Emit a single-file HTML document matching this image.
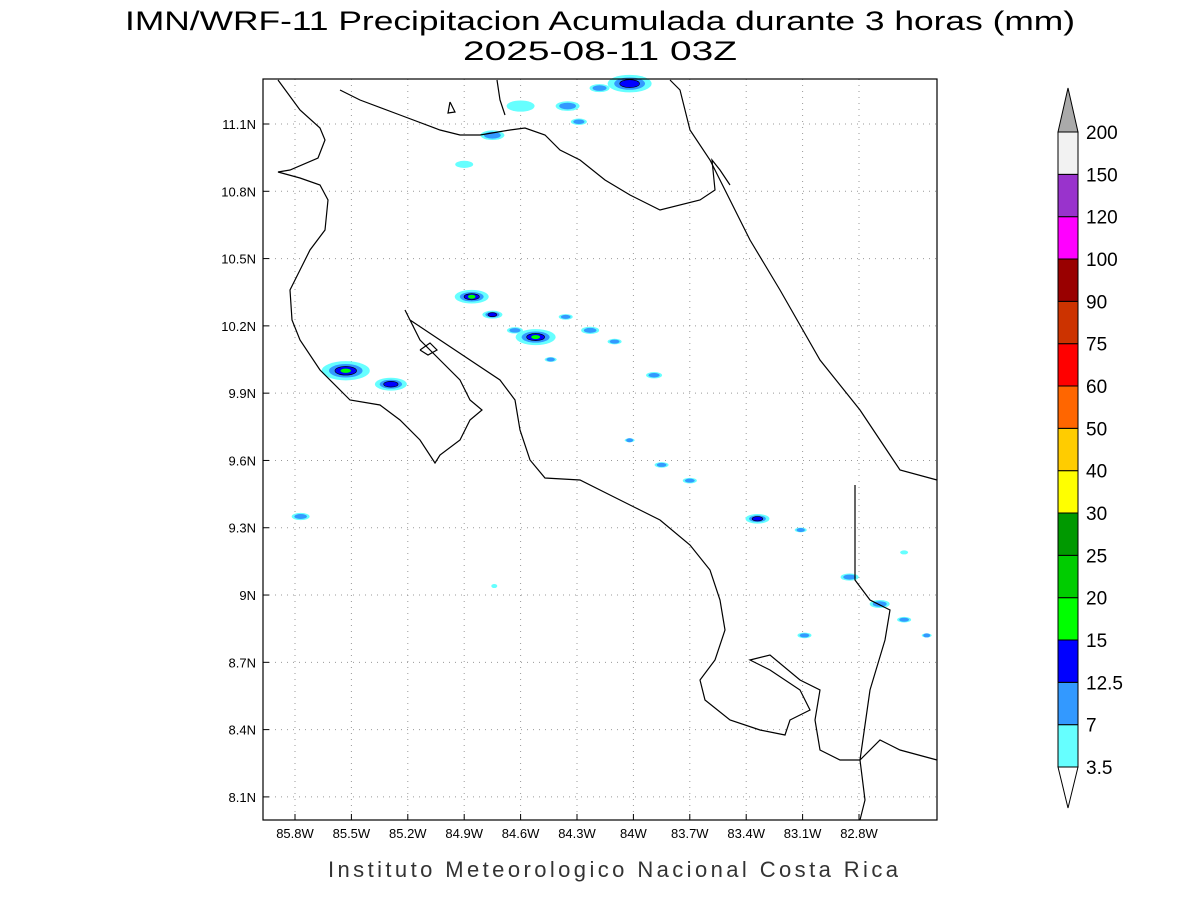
<!DOCTYPE html>
<html><head><meta charset="utf-8"><style>
body{margin:0;background:#fff;}
svg{display:block;font-family:"Liberation Sans",sans-serif;}
</style></head><body>
<svg id="c" width="1200" height="900">
<text x="600" y="30" font-size="27" text-anchor="middle" textLength="950" lengthAdjust="spacingAndGlyphs" font-weight="300">IMN/WRF-11 Precipitacion Acumulada durante 3 horas (mm)</text>
<text x="600" y="60" font-size="27" text-anchor="middle" textLength="274" lengthAdjust="spacingAndGlyphs">2025-08-11 03Z</text>
<text x="613" y="877" font-size="22" text-anchor="middle" textLength="570" lengthAdjust="spacing" fill="#333">Instituto Meteorologico Nacional Costa Rica</text>
<g id="grid"></g>
<g id="blobs"></g>
<g id="coast" fill="none" stroke="#000" stroke-width="1.2">
<polyline points="278,80 300,110 320,128 325,140 318,158 290,170 278,172 300,178 320,185 328,200 325,230 310,250 300,270 290,290 292,320 300,340 320,370 350,400 380,405 400,420 420,440 435,463 440,455 460,440 470,420 482,410 470,400 460,380 440,360 420,340 405,310 410,320 440,340 470,360 500,380 515,400 520,430 530,460 545,478 580,480 610,495 640,510 660,520 690,545 710,570 720,600 725,630 715,660 700,680 705,700 730,720 760,730 785,735 790,720 810,710 800,690 770,670 750,660 770,655 800,680 820,690 815,720 820,750 840,760 860,760 880,740 900,750 937,760"/>
<polyline points="340,90 360,100 400,115 440,130 460,135 480,135 510,130 525,128 545,135 560,150 580,160 605,180 630,195 660,210 700,200 715,190 712,160 720,170 730,185"/>
<polyline points="497,80 500,100 505,115"/>
<polyline points="670,80 680,90 690,130 710,160 730,200 750,240 780,290 820,360 860,410 880,440 900,470 937,480"/>
<polyline points="855,485 855,580 870,600 890,610 885,640 870,690 860,760 865,800 860,820"/>
<polyline points="420,350 430,343 437,350 428,355 420,350"/>
<polyline points="450,102 455,112 448,113 450,102"/>
</g>
<rect x="263" y="79" width="674" height="741" fill="none" stroke="#000" stroke-width="1.2"/>
<g id="axes" font-size="13"></g>
<g id="cbar"></g>
</svg>
<script>
const lonTicks=[-85.8,-85.5,-85.2,-84.9,-84.6,-84.3,-84,-83.7,-83.4,-83.1,-82.8];
const lonLabels=["85.8W","85.5W","85.2W","84.9W","84.6W","84.3W","84W","83.7W","83.4W","83.1W","82.8W"];
const latTicks=[11.1,10.8,10.5,10.2,9.9,9.6,9.3,9,8.7,8.4,8.1];
const latLabels=["11.1N","10.8N","10.5N","10.2N","9.9N","9.6N","9.3N","9N","8.7N","8.4N","8.1N"];
const cellLon=[-84.02,-84.18,-84.35,-84.60,-84.29,-84.75,-84.90,-84.86,-84.75,-84.52,-84.63,-84.36,-84.23,-84.10,-84.44,-83.89,-85.53,-85.29,-85.77,-83.85,-83.70,-84.02,-83.34,-83.11,-82.85,-82.69,-82.56,-83.09,-82.44,-82.56,-84.74];
const cellLat=[11.28,11.26,11.18,11.18,11.11,11.05,10.92,10.33,10.25,10.15,10.18,10.24,10.18,10.13,10.05,9.98,10.00,9.94,9.35,9.58,9.51,9.69,9.34,9.29,9.08,8.96,8.89,8.82,8.82,9.19,9.04];
const cellMax=[13,7,7,3.5,7,7,3.5,15,12.5,15,7,7,7,7,7,7,15,12.5,7,7,7,7,12.5,7,7,7,7,7,7,3.5,3.5];
const cellSize=[22,10,12,14,8,12,9,17,10,20,8,7,9,7,6,8,24,16,9,7,7,5,12,6,9,10,7,7,5,4,3];
const levels=[3.5,7,12.5,15,20,25,30,40,50,60,75,90,100,120,150,200];
const colors=["#66ffff","#3399ff","#0000ff","#00ff00","#00cc00","#009900","#ffff00","#ffcc00","#ff6600","#ff0000","#cc3300","#990000","#ff00ff","#9933cc","#f2f2f2"];
const X=lon=>295+(lon+85.8)*188, Y=lat=>124+(11.1-lat)*224.3;
const NS="http://www.w3.org/2000/svg";
function mk(t,a,p){const e=document.createElementNS(NS,t);for(const k in a)e.setAttribute(k,a[k]);p.appendChild(e);return e;}
const g=document.getElementById('grid'),ax=document.getElementById('axes');
lonTicks.forEach((v,i)=>{const x=X(v);
const l=mk('line',{x1:x,x2:x,y1:79,y2:820,stroke:'#999','stroke-dasharray':'1,5'},g);

mk('line',{x1:x,x2:x,y1:820,y2:814,stroke:'#000'},ax);
const t=mk('text',{x:x,y:838,'text-anchor':'middle'},ax);t.textContent=lonLabels[i];
});
latTicks.forEach((v,i)=>{const y=Y(v);
const l=mk('line',{x1:263,x2:937,y1:y,y2:y,stroke:'#999','stroke-dasharray':'1,5'},g);

mk('line',{x1:263,x2:269,y1:y,y2:y,stroke:'#000'},ax);
const t=mk('text',{x:256,y:y+5,'text-anchor':'end'},ax);t.textContent=latLabels[i];
});
const b=document.getElementById('blobs');
const fr=[1,0.7,0.45,0.22];
cellLon.forEach((lon,i)=>{const cx=X(lon),cy=Y(cellLat[i]),s=cellSize[i];
for(let k=0;k<4;k++){if(cellMax[i]>=levels[k]){
const e=mk('ellipse',{cx:cx,cy:cy,rx:s*fr[k],ry:Math.max(2,s*0.4*fr[k]),fill:colors[k],stroke:k==2?'#000':'none','stroke-width':0.6},b);
}}});
const cb=document.getElementById('cbar');
const cy0=767,cy1=132,h=(cy0-cy1)/15;
for(let i=0;i<15;i++){const r=mk('rect',{x:1058,y:cy0-(i+1)*h,width:20,height:h,fill:colors[i],stroke:'#000','stroke-width':1},cb);
}
const up=mk('polygon',{points:`1058,${cy1} 1078,${cy1} 1068,88`,fill:'#aaa',stroke:'#000'},cb);

const dn=mk('polygon',{points:`1058,${cy0} 1078,${cy0} 1068,808`,fill:'#fff',stroke:'#000'},cb);

levels.forEach((v,i)=>{const t=mk('text',{x:1086,y:cy0-i*h+7,'font-size':19},cb);t.textContent=v;
});
</script>
</body></html>
